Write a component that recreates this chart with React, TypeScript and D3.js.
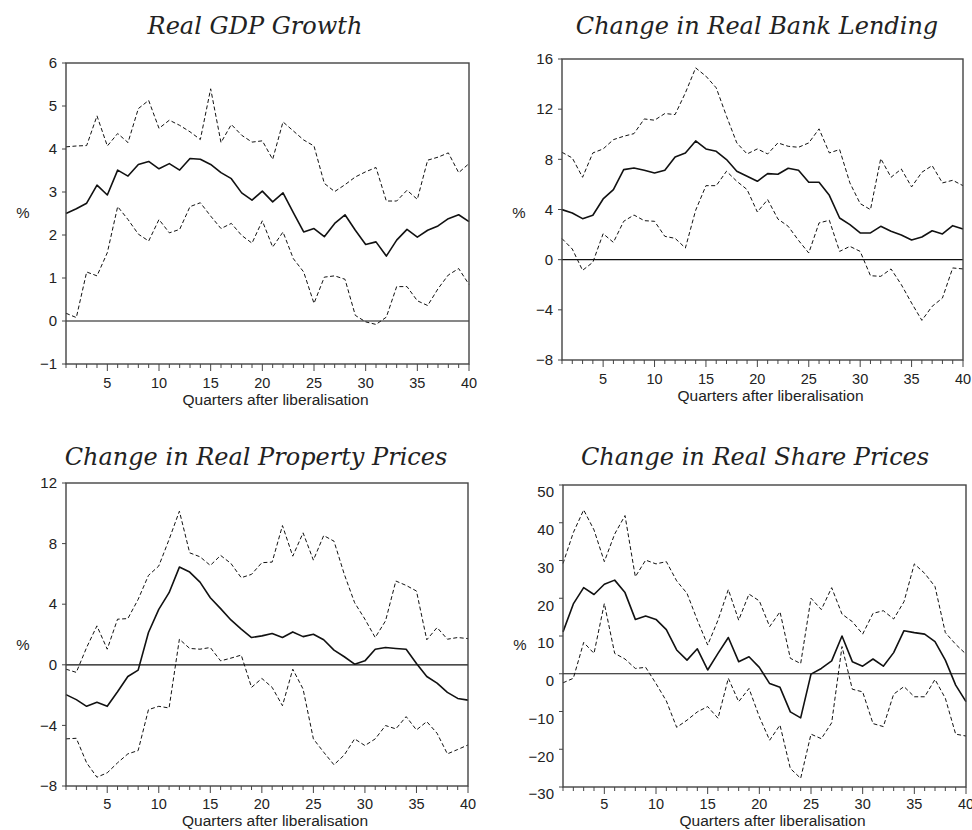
import React, { useEffect, useRef } from "react";
import * as d3 from "d3";

// quarters after liberalisation
const quarters = d3.range(1, 41);
const xTicks = [5, 10, 15, 20, 25, 30, 35, 40];

const titles = [
  "Real GDP Growth",
  "Change in Real Bank Lending",
  "Change in Real Property Prices",
  "Change in Real Share Prices",
];

const gdpTicks = [-1, 0, 1, 2, 3, 4, 5, 6];
const lendingTicks = [-8, -4, 0, 4, 8, 12, 16];
const propertyTicks = [-8, -4, 0, 4, 8, 12];
const shareTicks = [-30, -20, -10, 0, 10, 20, 30, 40, 50];

const gdpMid = [2.5, 2.61, 2.74, 3.16, 2.93, 3.51, 3.37, 3.64, 3.71, 3.54, 3.66, 3.51, 3.78, 3.76, 3.64, 3.45, 3.31, 2.98, 2.81, 3.02,
  2.77, 2.98, 2.52, 2.07, 2.15, 1.96, 2.27, 2.47, 2.11, 1.78, 1.84, 1.51, 1.88, 2.13, 1.95, 2.11, 2.21, 2.38, 2.47, 2.31];
const gdpUpper = [4.05, 4.07, 4.08, 4.77, 4.07, 4.36, 4.15, 4.94, 5.13, 4.48, 4.67, 4.55, 4.4, 4.22, 5.4, 4.15, 4.57, 4.32, 4.16, 4.19,
  3.76, 4.63, 4.42, 4.21, 4.07, 3.2, 3.01, 3.17, 3.35, 3.47, 3.57, 2.79, 2.79, 3.04, 2.83, 3.74, 3.81, 3.91, 3.45, 3.66];
const gdpLower = [0.18, 0.08, 1.14, 1.05, 1.59, 2.66, 2.36, 2.02, 1.86, 2.36, 2.05, 2.13, 2.66, 2.75, 2.44, 2.15, 2.27, 1.99, 1.81, 2.33,
  1.72, 2.07, 1.45, 1.14, 0.41, 1.02, 1.05, 0.97, 0.13, -0.02, -0.08, 0.09, 0.8, 0.8, 0.47, 0.36, 0.75, 1.07, 1.22, 0.85];

const lendingMid = [3.99, 3.72, 3.27, 3.54, 4.84, 5.59, 7.18, 7.31, 7.13, 6.91, 7.13, 8.19, 8.51, 9.47, 8.83, 8.64, 7.98, 7.05, 6.65, 6.25,
  6.86, 6.81, 7.29, 7.13, 6.17, 6.17, 5.13, 3.32, 2.79, 2.13, 2.13, 2.66, 2.26, 1.97, 1.57, 1.81, 2.31, 2.05, 2.71, 2.45];
const lendingUpper = [8.56, 8.11, 6.57, 8.51, 8.83, 9.57, 9.84, 10.05, 11.22, 11.12, 11.65, 11.57, 13.3, 15.29, 14.63, 13.7, 11.44, 9.31, 8.43, 8.83,
  8.43, 9.31, 9.04, 8.96, 9.31, 10.43, 8.51, 8.78, 6.12, 4.47, 3.99, 8.06, 6.57, 7.23, 5.8, 6.97, 7.5, 6.12, 6.33, 5.9];
const lendingLower = [1.68, 0.85, -0.85, -0.21, 2.07, 1.38, 3.06, 3.56, 3.11, 3.06, 1.86, 1.7, 0.93, 3.94, 5.9, 5.9, 7.05, 6.25, 5.59, 3.8,
  4.79, 3.24, 2.66, 1.54, 0.53, 2.93, 3.14, 0.66, 1.06, 0.66, -1.28, -1.33, -0.74, -1.99, -3.46, -4.84, -3.72, -3.06, -0.66, -0.74];

const propertyMid = [-1.97, -2.3, -2.74, -2.48, -2.74, -1.78, -0.77, -0.35, 2.13, 3.66, 4.76, 6.45, 6.12, 5.46, 4.43, 3.71, 2.96, 2.35, 1.8, 1.91,
  2.06, 1.8, 2.17, 1.86, 2.02, 1.65, 0.97, 0.53, 0.04, 0.26, 1.03, 1.14, 1.08, 1.03, 0.09, -0.77, -1.21, -1.82, -2.22, -2.33];
const propertyUpper = [-0.29, -0.5, 1.14, 2.57, 1.03, 3.01, 3.05, 4.32, 5.9, 6.52, 8.27, 10.14, 7.39, 7.13, 6.56, 7.22, 6.69, 5.75, 5.97, 6.74,
  6.78, 9.19, 7.17, 8.71, 6.91, 8.53, 8.16, 5.97, 4.1, 3.01, 1.8, 2.9, 5.53, 5.24, 4.87, 1.65, 2.46, 1.69, 1.8, 1.73];
const propertyLower = [-4.89, -4.85, -6.47, -7.42, -7.13, -6.47, -5.88, -5.66, -2.96, -2.74, -2.85, 1.69, 1.08, 1.03, 1.14, 0.26, 0.44, 0.64, -1.49, -0.9,
  -1.49, -2.7, -0.29, -1.6, -4.89, -5.77, -6.6, -5.95, -4.89, -5.33, -4.89, -4.01, -4.23, -3.42, -4.3, -3.75, -4.52, -5.88, -5.59, -5.29];

const shareMid = [11.1, 18.5, 22.8, 21.0, 23.7, 24.8, 21.5, 14.4, 15.3, 14.4, 11.7, 6.3, 3.6, 6.6, 1.0, 5.4, 9.6, 3.2, 4.5, 1.7,
  -2.6, -3.6, -10.1, -11.7, -0.1, 1.4, 3.4, 10.0, 3.2, 2.0, 3.9, 2.0, 5.6, 11.4, 10.9, 10.5, 8.5, 3.6, -3.0, -7.4];
const shareUpper = [29.2, 37.4, 43.4, 38.1, 29.7, 37.0, 41.9, 25.7, 30.1, 29.1, 29.7, 24.6, 21.3, 14.2, 7.6, 14.2, 22.3, 14.2, 21.1, 19.3,
  12.5, 16.4, 4.1, 2.7, 20.0, 17.0, 22.8, 15.8, 13.8, 10.5, 16.0, 16.7, 14.5, 19.1, 29.1, 26.6, 23.1, 10.9, 7.8, 5.2];
const shareLower = [-2.4, -1.2, 8.3, 5.4, 18.6, 5.4, 3.9, 1.4, 1.7, -2.6, -7.2, -14.2, -12.3, -10.1, -8.7, -11.8, -1.2, -7.4, -3.9, -11.4,
  -17.6, -13.6, -25.1, -27.7, -16.0, -17.2, -13.0, 7.2, -4.1, -4.8, -13.2, -14.0, -5.4, -3.4, -6.1, -6.1, -1.5, -6.5, -16.0, -16.5];

const panels = [
  { title: titles[0], ticks: gdpTicks, mid: gdpMid, upper: gdpUpper, lower: gdpLower,
    box: { left: 66, right: 469, top: 63, bottom: 364 }, titleX: 255, titleY: 34, pctY: 213, labelDy: 0 },
  { title: titles[1], ticks: lendingTicks, mid: lendingMid, upper: lendingUpper, lower: lendingLower,
    box: { left: 562, right: 963, top: 59, bottom: 360 }, titleX: 757, titleY: 34, pctY: 213, labelDy: 0 },
  { title: titles[2], ticks: propertyTicks, mid: propertyMid, upper: propertyUpper, lower: propertyLower,
    box: { left: 66, right: 468, top: 483, bottom: 786 }, titleX: 256, titleY: 465, pctY: 645, labelDy: 0 },
  { title: titles[3], ticks: shareTicks, mid: shareMid, upper: shareUpper, lower: shareLower,
    box: { left: 563, right: 966, top: 485, bottom: 787 }, titleX: 755, titleY: 465, pctY: 645, labelDy: 7 },
];

const sans = "'Liberation Sans', Arial, sans-serif";
const serif = "'DejaVu Serif', serif";

function App() {
  const ref = useRef<SVGSVGElement>(null);

  useEffect(() => {
    const svg = d3.select(ref.current);
    svg.selectAll("*").remove();

    panels.forEach((p) => {
      const { left, right, top, bottom } = p.box;
      const x = d3.scaleLinear().domain([1, 40]).range([left, right]);
      const y = d3.scaleLinear().domain(d3.extent(p.ticks) as [number, number]).range([bottom, top]);
      const g = svg.append("g");

      // title
      g.append("text")
        .attr("x", p.titleX)
        .attr("y", p.titleY)
        .attr("text-anchor", "middle")
        .attr("font-family", serif)
        .attr("font-style", "italic")
        .attr("font-size", 24)
        .attr("fill", "#222")
        .text(p.title);

      // zero line
      g.append("line")
        .attr("x1", left).attr("x2", right)
        .attr("y1", y(0)).attr("y2", y(0))
        .attr("stroke", "#111").attr("stroke-width", 1.2);

      const line = d3.line<number>()
        .x((d, i) => x(quarters[i]))
        .y((d) => y(d));

      [p.upper, p.lower].forEach((s) => {
        g.append("path")
          .attr("d", line(s))
          .attr("fill", "none")
          .attr("stroke", "#111")
          .attr("stroke-width", 1)
          .attr("stroke-dasharray", "4,2.5");
      });

      g.append("path")
        .attr("d", line(p.mid))
        .attr("fill", "none")
        .attr("stroke", "#111")
        .attr("stroke-width", 1.6)
        .attr("stroke-linejoin", "round");

      // frame
      g.append("rect")
        .attr("x", left).attr("y", top)
        .attr("width", right - left).attr("height", bottom - top)
        .attr("fill", "none")
        .attr("stroke", "#444")
        .attr("stroke-width", 1.4);

      // x ticks
      g.selectAll(".xt")
        .data(quarters)
        .enter()
        .append("line")
        .attr("x1", (d) => x(d)).attr("x2", (d) => x(d))
        .attr("y1", bottom)
        .attr("y2", (d) => bottom + (d % 5 === 0 ? 7 : 4))
        .attr("stroke", "#444").attr("stroke-width", 1);

      g.selectAll(".xl")
        .data(xTicks)
        .enter()
        .append("text")
        .attr("x", (d) => x(d))
        .attr("y", Math.min(bottom + 24, 809))
        .attr("text-anchor", "middle")
        .attr("font-family", sans)
        .attr("font-size", 14.5)
        .attr("fill", "#222")
        .text((d) => d);

      g.append("text")
        .attr("x", (left + right) / 2 + 8)
        .attr("y", Math.min(bottom + 41, 826))
        .attr("text-anchor", "middle")
        .attr("font-family", sans)
        .attr("font-size", 15.5)
        .attr("fill", "#222")
        .text("Quarters after liberalisation");

      // y ticks
      g.selectAll(".yt")
        .data(p.ticks)
        .enter()
        .append("line")
        .attr("x1", left - 4).attr("x2", left)
        .attr("y1", (d) => y(d)).attr("y2", (d) => y(d))
        .attr("stroke", "#444").attr("stroke-width", 1);

      g.selectAll(".yl")
        .data(p.ticks)
        .enter()
        .append("text")
        .attr("x", left - 9)
        .attr("y", (d) => y(d) + p.labelDy)
        .attr("dy", "0.35em")
        .attr("text-anchor", "end")
        .attr("font-family", sans)
        .attr("font-size", 15)
        .attr("fill", "#222")
        .text((d) => (d < 0 ? "\u2212" + Math.abs(d) : d));

      g.append("text")
        .attr("x", left - 43)
        .attr("y", p.pctY)
        .attr("dy", "0.35em")
        .attr("text-anchor", "middle")
        .attr("font-family", sans)
        .attr("font-size", 15)
        .attr("fill", "#222")
        .text("%");
    });
  }, []);

  return (
    <svg ref={ref} width={972} height={830} style={{ position: "absolute", left: 0, top: 0, background: "#fff" }} />
  );
}

export default App;
